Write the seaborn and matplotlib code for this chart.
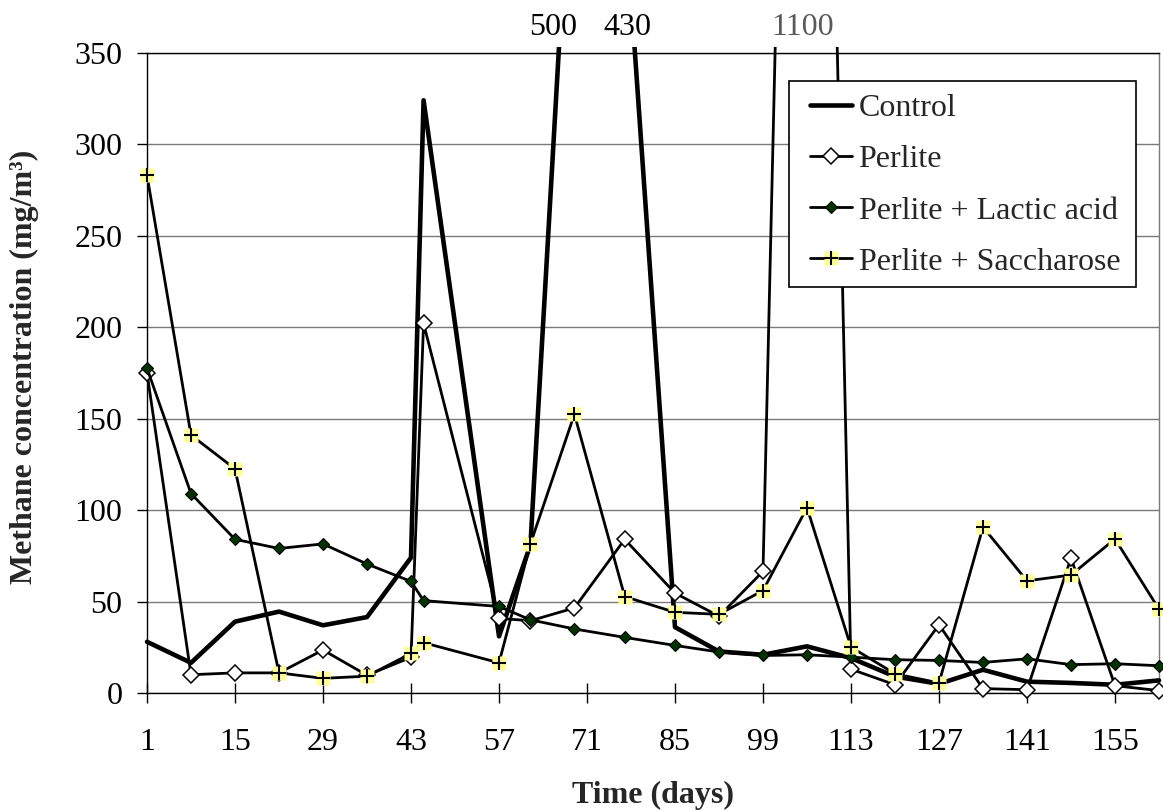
import matplotlib
matplotlib.use('Agg')
import matplotlib.pyplot as plt
import seaborn as sns
from matplotlib.patches import Rectangle
from matplotlib.transforms import Bbox, TransformedBbox, blended_transform_factory

# ---- data ----
days = [1, 8, 15, 22, 29, 36, 43, 45, 57, 62, 69, 77, 85, 92, 99, 106,
        113, 120, 127, 134, 141, 148, 155, 162]
control = [28, 16.5, 39, 44.5, 37, 41.5, 74, 324, 31, 81, 500, 430, 36,
           22.7, 20.9, 25.5, 19.1, 9, 5, 12.7, 6.2, 5.5, 4.5, 6.9]
perlite = [175, 10, 11, 11, 23.5, 9.7, 19.5, 202, 40.8, 39.5, 46.5, 84,
           54.6, 42, 66.5, 1100, 13, 4.5, 37.3, 2.4, 1.8, 73.8, 4, 1.3]
lactic = [177.5, 109, 84, 79, 81.5, 70.5, 61, 50.5, 47.3, 40, 35, 30.4,
          26, 22.4, 20.5, 20.9, 19.6, 18.2, 17.8, 16.7, 18.7, 15.5, 16, 14.9]
sacch = [283, 141, 122.5, 11, 8, 9.2, 21.6, 27.5, 16.5, 81.5, 152.4, 52.7,
         44.1, 43, 56, 101.3, 25.1, 10.5, 5.5, 90.7, 61.3, 64.5, 84.2, 45.8]

labels = ["Control", "Perlite", "Perlite + Lactic acid", "Perlite + Saccharose"]
xticks = list(range(1, 156, 14))
yticks = [0, 50, 100, 150, 200, 250, 300, 350]
offscale_labels = [("500", 65.6, "black"), ("430", 77.5, "black"), ("1100", 105.3, "#595959")]

sns.set_style("white")
plt.rcParams['font.family'] = ['Liberation Serif', 'DejaVu Serif']

W, H = 1163, 810
fig = plt.figure(figsize=(W / 100, H / 100), dpi=100)
ax = fig.add_axes([147/W, 1 - 693/H, (1159-147)/W, (693-52.7)/H])

FS = 23

sns.lineplot(x=days, y=control, ax=ax, color='black', lw=3.3, sort=False,
             label=labels[0], zorder=3)
sns.lineplot(x=days, y=perlite, ax=ax, color='black', lw=2.0, sort=False,
             marker='D', markersize=7.8, markerfacecolor='white',
             markeredgecolor='black', markeredgewidth=1.1,
             label=labels[1], zorder=4)
sns.lineplot(x=days, y=lactic, ax=ax, color='black', lw=2.0, sort=False,
             marker='D', markersize=6.6, markerfacecolor='#003300',
             markeredgecolor='black', markeredgewidth=0.8,
             label=labels[2], zorder=5)
sns.lineplot(x=days, y=sacch, ax=ax, color='black', lw=2.0, sort=False,
             marker='s', markersize=9.6, markerfacecolor='#FFFF99',
             markeredgecolor='none', label=labels[3], zorder=6)
plus, = ax.plot(days, sacch, linestyle='none', marker='+', markersize=10,
                markeredgewidth=1.5, color='black', zorder=7)

ax.set_xlim(1, 162)
ax.set_ylim(0, 350)
ax.set_xticks(xticks)
ax.set_xticklabels([str(t) for t in xticks])
ax.set_yticks(yticks)
ax.set_yticklabels([str(t) for t in yticks])

ax.yaxis.grid(True, color='#7a7a7a', lw=1.0)
ax.xaxis.grid(False)
ax.set_axisbelow(True)
for s in ax.spines.values():
    s.set_visible(True)
    s.set_color('black')
    s.set_linewidth(1.0)
ax.spines['right'].set_color('#7a7a7a')

ax.tick_params(axis='y', direction='out', length=7.2, width=1.0, pad=10.5,
               labelsize=FS, left=True, colors='black')
ax.tick_params(axis='x', direction='inout', length=14.4, width=1.0, pad=18,
               labelsize=FS, bottom=True, colors='black')

# lines may run slightly beyond the top of the plot area
clip = TransformedBbox(Bbox([[-0.02, -0.03], [1.003, 1.0095]]), ax.transAxes)
for ln in ax.lines:
    ln.set_clip_path(None)
    ln.set_clip_box(clip)

trans = blended_transform_factory(ax.transData, ax.transAxes)
for txt, xd, col in offscale_labels:
    ax.text(xd, 1.04, txt, transform=trans, ha='center', va='center',
            fontsize=FS, color=col)

ax.set_xlabel("Time (days)", fontsize=FS, fontweight='bold')
ax.set_ylabel("Methane concentration (mg/m³)", fontsize=FS, fontweight='bold')
ax.xaxis.label.set_va('center')
ax.yaxis.label.set_va('center')
ax.xaxis.set_label_coords(0.5, -0.16)
ax.yaxis.set_label_coords(-0.1206, 0.51)

# legend: frame drawn as a separate box so that padding matches the reference
frame = Rectangle((789/W, 1 - 287/H), (1136-789)/W, (287-80.8)/H,
                  transform=fig.transFigure, facecolor='white',
                  edgecolor='black', lw=1.2, zorder=9, clip_on=False)
ax.add_patch(frame)

handles, labs = ax.get_legend_handles_labels()
handles = handles[:4]
handles[3] = (handles[3], plus)
leg = ax.legend(handles, labels, loc='upper left',
                bbox_to_anchor=(810/W, 1 - 94/H),
                bbox_transform=fig.transFigure, borderaxespad=0,
                fontsize=FS, frameon=False, handlelength=1.3,
                handletextpad=0.22, labelspacing=0.68, borderpad=0)
leg.set_zorder(10)

fig.savefig("out.png", dpi=100)
